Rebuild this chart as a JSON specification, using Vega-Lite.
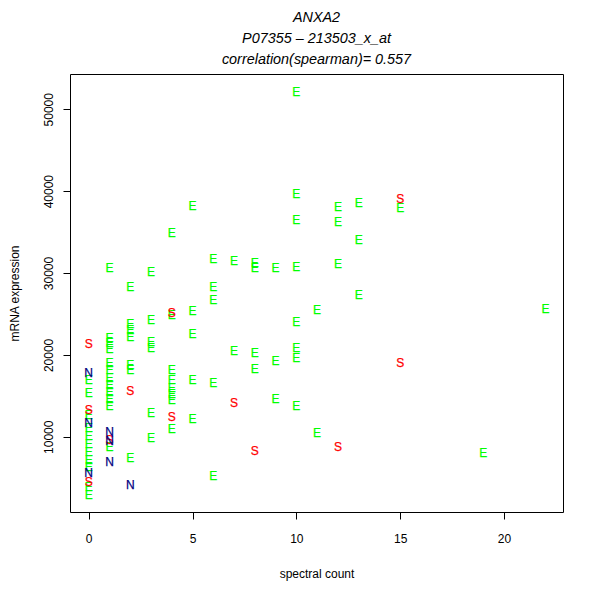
{
  "$schema": "https://vega.github.io/schema/vega-lite/v6.json",
  "width": 493,
  "height": 438,
  "autosize": "none",
  "padding": {"left": 70, "top": 74, "right": 37, "bottom": 88},
  "background": "white",
  "config": {
    "view": {"stroke": "black", "strokeWidth": 1},
    "font": "Liberation Sans"
  },
  "title": {
    "text": ["ANXA2", "P07355 – 213503_x_at", "correlation(spearman)= 0.557"],
    "fontSize": 14.4,
    "fontStyle": "italic",
    "fontWeight": "normal",
    "font": "Liberation Sans",
    "color": "black",
    "lineHeight": 21,
    "offset": 7,
    "anchor": "middle"
  },
  "data": {
    "values": [
      {"count": 0, "mrna": 16960, "type": "E"},
      {"count": 0, "mrna": 15372, "type": "E"},
      {"count": 0, "mrna": 12686, "type": "E"},
      {"count": 0, "mrna": 11099, "type": "E"},
      {"count": 0, "mrna": 10122, "type": "E"},
      {"count": 0, "mrna": 9145, "type": "E"},
      {"count": 0, "mrna": 8168, "type": "E"},
      {"count": 0, "mrna": 7192, "type": "E"},
      {"count": 0, "mrna": 6337, "type": "E"},
      {"count": 0, "mrna": 3895, "type": "E"},
      {"count": 0, "mrna": 2918, "type": "E"},
      {"count": 1, "mrna": 30635, "type": "E"},
      {"count": 1, "mrna": 22088, "type": "E"},
      {"count": 1, "mrna": 21477, "type": "E"},
      {"count": 1, "mrna": 20745, "type": "E"},
      {"count": 1, "mrna": 19035, "type": "E"},
      {"count": 1, "mrna": 18181, "type": "E"},
      {"count": 1, "mrna": 17204, "type": "E"},
      {"count": 1, "mrna": 16349, "type": "E"},
      {"count": 1, "mrna": 15495, "type": "E"},
      {"count": 1, "mrna": 14640, "type": "E"},
      {"count": 1, "mrna": 13785, "type": "E"},
      {"count": 1, "mrna": 8779, "type": "E"},
      {"count": 2, "mrna": 28315, "type": "E"},
      {"count": 2, "mrna": 23797, "type": "E"},
      {"count": 2, "mrna": 23065, "type": "E"},
      {"count": 2, "mrna": 22210, "type": "E"},
      {"count": 2, "mrna": 18791, "type": "E"},
      {"count": 2, "mrna": 18181, "type": "E"},
      {"count": 2, "mrna": 7436, "type": "E"},
      {"count": 3, "mrna": 30147, "type": "E"},
      {"count": 3, "mrna": 24286, "type": "E"},
      {"count": 3, "mrna": 21600, "type": "E"},
      {"count": 3, "mrna": 20867, "type": "E"},
      {"count": 3, "mrna": 12930, "type": "E"},
      {"count": 3, "mrna": 9878, "type": "E"},
      {"count": 4, "mrna": 34908, "type": "E"},
      {"count": 4, "mrna": 24896, "type": "E"},
      {"count": 4, "mrna": 18181, "type": "E"},
      {"count": 4, "mrna": 16960, "type": "E"},
      {"count": 4, "mrna": 15983, "type": "E"},
      {"count": 4, "mrna": 15250, "type": "E"},
      {"count": 4, "mrna": 14518, "type": "E"},
      {"count": 4, "mrna": 10977, "type": "E"},
      {"count": 5, "mrna": 38205, "type": "E"},
      {"count": 5, "mrna": 25385, "type": "E"},
      {"count": 5, "mrna": 22576, "type": "E"},
      {"count": 5, "mrna": 16960, "type": "E"},
      {"count": 5, "mrna": 12198, "type": "E"},
      {"count": 6, "mrna": 31734, "type": "E"},
      {"count": 6, "mrna": 28315, "type": "E"},
      {"count": 6, "mrna": 26728, "type": "E"},
      {"count": 6, "mrna": 16593, "type": "E"},
      {"count": 6, "mrna": 5238, "type": "E"},
      {"count": 7, "mrna": 31490, "type": "E"},
      {"count": 7, "mrna": 20501, "type": "E"},
      {"count": 8, "mrna": 31245, "type": "E"},
      {"count": 8, "mrna": 30635, "type": "E"},
      {"count": 8, "mrna": 20256, "type": "E"},
      {"count": 8, "mrna": 18303, "type": "E"},
      {"count": 9, "mrna": 30635, "type": "E"},
      {"count": 9, "mrna": 19280, "type": "E"},
      {"count": 9, "mrna": 14640, "type": "E"},
      {"count": 10, "mrna": 52125, "type": "E"},
      {"count": 10, "mrna": 39670, "type": "E"},
      {"count": 10, "mrna": 36496, "type": "E"},
      {"count": 10, "mrna": 30757, "type": "E"},
      {"count": 10, "mrna": 24042, "type": "E"},
      {"count": 10, "mrna": 20867, "type": "E"},
      {"count": 10, "mrna": 19646, "type": "E"},
      {"count": 10, "mrna": 13785, "type": "E"},
      {"count": 11, "mrna": 25507, "type": "E"},
      {"count": 11, "mrna": 10488, "type": "E"},
      {"count": 12, "mrna": 38083, "type": "E"},
      {"count": 12, "mrna": 36252, "type": "E"},
      {"count": 12, "mrna": 31123, "type": "E"},
      {"count": 13, "mrna": 38571, "type": "E"},
      {"count": 13, "mrna": 34054, "type": "E"},
      {"count": 13, "mrna": 27338, "type": "E"},
      {"count": 15, "mrna": 37961, "type": "E"},
      {"count": 19, "mrna": 8046, "type": "E"},
      {"count": 22, "mrna": 25629, "type": "E"},
      {"count": 0, "mrna": 21355, "type": "S"},
      {"count": 0, "mrna": 13297, "type": "S"},
      {"count": 0, "mrna": 4505, "type": "S"},
      {"count": 1, "mrna": 9634, "type": "S"},
      {"count": 2, "mrna": 15617, "type": "S"},
      {"count": 4, "mrna": 25140, "type": "S"},
      {"count": 4, "mrna": 12442, "type": "S"},
      {"count": 7, "mrna": 14151, "type": "S"},
      {"count": 8, "mrna": 8291, "type": "S"},
      {"count": 12, "mrna": 8779, "type": "S"},
      {"count": 15, "mrna": 39060, "type": "S"},
      {"count": 15, "mrna": 19035, "type": "S"},
      {"count": 0, "mrna": 17814, "type": "N"},
      {"count": 0, "mrna": 11700, "type": "N"},
      {"count": 0, "mrna": 5604, "type": "N"},
      {"count": 1, "mrna": 10611, "type": "N"},
      {"count": 1, "mrna": 9512, "type": "N"},
      {"count": 1, "mrna": 6948, "type": "N"},
      {"count": 2, "mrna": 4139, "type": "N"}
    ]
  },
  "mark": {"type": "text", "fontSize": 12, "font": "Liberation Sans", "align": "center", "baseline": "middle", "strokeWidth": 0.25},
  "encoding": {
    "x": {
      "field": "count", "type": "quantitative",
      "scale": {"domain": [-0.9, 22.84], "nice": false, "zero": false},
      "axis": {
        "title": "spectral count", "values": [0, 5, 10, 15, 20], "format": "d",
        "domain": false, "grid": false, "tickSize": 7, "tickColor": "black",
        "labelFontSize": 12, "labelColor": "black", "labelPadding": 14, "labelFont": "Liberation Sans",
        "titleFontSize": 12, "titleFontWeight": "normal", "titleColor": "black", "titleFont": "Liberation Sans",
        "titleY": 61, "titleBaseline": "middle"
      }
    },
    "y": {
      "field": "mrna", "type": "quantitative",
      "scale": {"domain": [809, 54309], "nice": false, "zero": false},
      "axis": {
        "title": "mRNA expression", "values": [10000, 20000, 30000, 40000, 50000], "format": "d",
        "domain": false, "grid": false, "tickSize": 7, "tickColor": "black",
        "labelFontSize": 12, "labelColor": "black", "labelPadding": 8, "labelFont": "Liberation Sans",
        "labelAngle": 270, "labelAlign": "center", "labelBaseline": "bottom",
        "titleFontSize": 12, "titleFontWeight": "normal", "titleColor": "black", "titleFont": "Liberation Sans",
        "titleX": -56, "titleBaseline": "middle"
      }
    },
    "text": {"field": "type"},
    "color": {
      "field": "type", "type": "nominal",
      "scale": {"domain": ["E", "S", "N"], "range": ["#00ff00", "#ff0000", "#000080"]},
      "legend": null
    },
    "stroke": {
      "field": "type", "type": "nominal",
      "scale": {"domain": ["E", "S", "N"], "range": ["#00ff00", "#ff0000", "#000080"]},
      "legend": null
    }
  }
}
